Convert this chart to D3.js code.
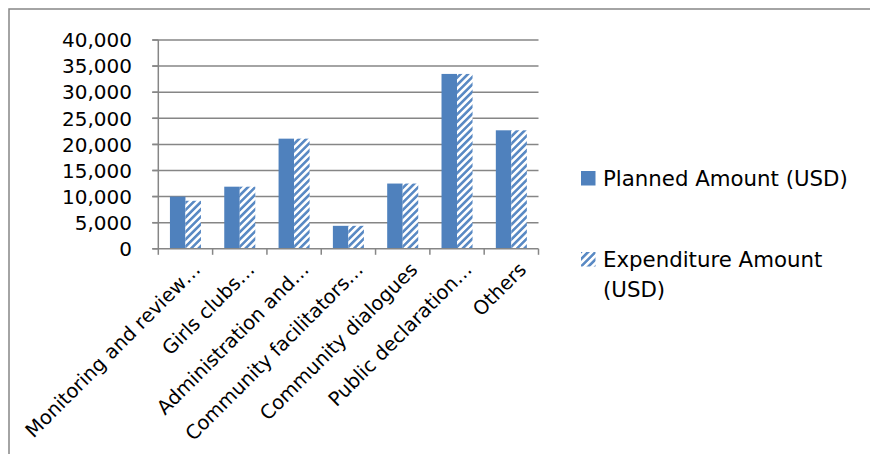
<!DOCTYPE html>
<meta charset="utf-8">
<style>
    body { margin: 0; background: #fff; }
    svg { display: block; }
    text { font-family: "DejaVu Sans", sans-serif; fill: #000; }
</style>
<body>
<script src="https://cdn.jsdelivr.net/npm/d3@7/dist/d3.min.js"></script>
<script>
    // Categories (as shown, truncated by the original chart)
    var categories = [
        "Monitoring and review…",
        "Girls clubs…",
        "Administration and…",
        "Community facilitators…",
        "Community dialogues",
        "Public declaration…",
        "Others"
    ];
    var seriesNames = ["Planned Amount (USD)", "Expenditure Amount (USD)"];
    var planned = [10000, 11900, 21100, 4400, 12500, 33500, 22700];
    var expenditure = [9200, 11900, 21100, 4400, 12500, 33500, 22700];
    var yTicks = [0, 5000, 10000, 15000, 20000, 25000, 30000, 35000, 40000];

    var width = 870, height = 454;
    var plot = { left: 158.3, right: 538.5, top: 40, bottom: 248.8 };
    var blue = "#4f81bd", grey = "#868686";

    var svg = d3.select("body").append("svg")
        .attr("width", width)
        .attr("height", height);

    // striped fill for expenditure
    var defs = svg.append("defs");
    var pat = defs.append("pattern")
        .attr("id", "stripes")
        .attr("patternUnits", "userSpaceOnUse")
        .attr("width", 5.2)
        .attr("height", 5.2)
        .attr("patternTransform", "rotate(45)");
    pat.append("rect").attr("width", 5.2).attr("height", 5.2).attr("fill", "#fff");
    pat.append("rect").attr("width", 2.6).attr("height", 5.2).attr("fill", "#5a8ac4");

    // outer frame (cut off on right and bottom)
    svg.append("rect")
        .attr("x", 9).attr("y", 9)
        .attr("width", width + 20).attr("height", height + 20)
        .attr("fill", "none")
        .attr("stroke", grey)
        .attr("stroke-width", 1.5);

    var x = d3.scaleBand()
        .domain(categories)
        .range([plot.left, plot.right]);

    var xs = d3.scaleBand()
        .domain([0, 1])
        .range([0, x.bandwidth()])
        .paddingOuter(0.75);

    var y = d3.scaleLinear()
        .domain([0, 40000])
        .range([plot.bottom, plot.top]);

    // gridlines + y ticks
    var grid = svg.append("g");
    grid.selectAll("line")
        .data(yTicks.filter(function (d) { return d > 0; }))
        .enter().append("line")
        .attr("x1", plot.left - 6)
        .attr("x2", plot.right)
        .attr("y1", function (d) { return y(d); })
        .attr("y2", function (d) { return y(d); })
        .attr("stroke", grey)
        .attr("stroke-width", 1.5);

    var fmt = d3.format(",");
    svg.append("g").selectAll("text")
        .data(yTicks)
        .enter().append("text")
        .attr("x", 132)
        .attr("y", function (d) { return y(d); })
        .attr("dy", "0.36em")
        .attr("text-anchor", "end")
        .style("font-size", "20px")
        .text(function (d) { return fmt(d); });

    // bars
    var groups = svg.append("g").selectAll("g")
        .data(categories)
        .enter().append("g")
        .attr("transform", function (d) { return "translate(" + x(d) + ",0)"; });

    groups.append("rect")
        .attr("x", xs(0))
        .attr("width", xs.bandwidth())
        .attr("y", function (d, i) { return y(planned[i]); })
        .attr("height", function (d, i) { return y(0) - y(planned[i]); })
        .attr("fill", blue);

    groups.append("rect")
        .attr("x", xs(1))
        .attr("width", xs.bandwidth())
        .attr("y", function (d, i) { return y(expenditure[i]); })
        .attr("height", function (d, i) { return y(0) - y(expenditure[i]); })
        .attr("fill", "url(#stripes)");

    // axes lines
    svg.append("line")
        .attr("x1", plot.left).attr("x2", plot.left)
        .attr("y1", plot.top).attr("y2", plot.bottom)
        .attr("stroke", grey).attr("stroke-width", 1.5);
    svg.append("g").selectAll("line")
        .data(yTicks)
        .enter().append("line")
        .attr("x1", plot.left - 6).attr("x2", plot.left)
        .attr("y1", function (d) { return y(d); })
        .attr("y2", function (d) { return y(d); })
        .attr("stroke", grey).attr("stroke-width", 1.5);

    svg.append("line")
        .attr("x1", plot.left - 6).attr("x2", plot.right)
        .attr("y1", plot.bottom).attr("y2", plot.bottom)
        .attr("stroke", grey).attr("stroke-width", 1.5);
    var bounds = categories.map(function (c) { return x(c); }).concat([plot.right]);
    svg.append("g").selectAll("line")
        .data(bounds)
        .enter().append("line")
        .attr("x1", function (d) { return d; })
        .attr("x2", function (d) { return d; })
        .attr("y1", plot.bottom).attr("y2", plot.bottom + 6)
        .attr("stroke", grey).attr("stroke-width", 1.5);

    // rotated category labels
    svg.append("g").selectAll("text")
        .data(categories)
        .enter().append("text")
        .attr("transform", function (d) {
            var cx = x(d) + x.bandwidth() / 2 + 16;
            return "translate(" + cx + "," + (plot.bottom + 22) + ") rotate(-45)";
        })
        .attr("text-anchor", "end")
        .style("font-size", "19.5px")
        .text(function (d) { return d; });

    // legend
    var legend = svg.append("g");
    legend.append("rect")
        .attr("x", 581).attr("y", 171)
        .attr("width", 14.5).attr("height", 14.5)
        .attr("fill", blue);
    legend.append("text")
        .attr("x", 603).attr("y", 186)
        .style("font-size", "21.3px")
        .text(seriesNames[0]);

    legend.append("rect")
        .attr("x", 581).attr("y", 252)
        .attr("width", 14.5).attr("height", 14.5)
        .attr("fill", "url(#stripes)");
    var t2 = legend.append("text")
        .attr("x", 603).attr("y", 267)
        .style("font-size", "21.3px");
    t2.append("tspan").attr("x", 603).text("Expenditure Amount");
    t2.append("tspan").attr("x", 603).attr("dy", 30).text("(USD)");
</script>
</body>
